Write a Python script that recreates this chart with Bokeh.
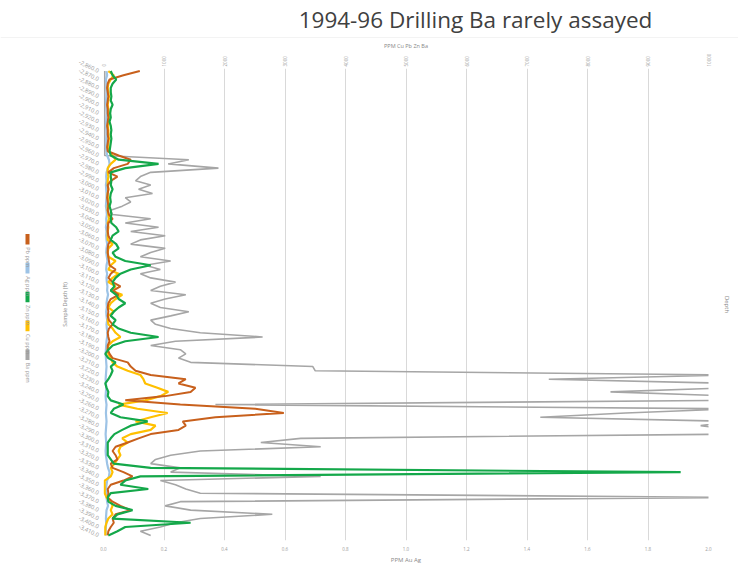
import math
from bokeh.plotting import figure
from bokeh.models import Range1d, LinearAxis, FixedTicker, PrintfTickFormatter
from bokeh.layouts import column, row
from bokeh.embed import file_html
from bokeh.resources import INLINE
from bokeh.core.properties import value

title_text = "1994-96 Drilling Ba rarely assayed"
top_axis_title = "PPM Cu Pb Zn Ba"
bottom_axis_title = "PPM Au Ag"
left_axis_title = "Sample Depth (ft)"
right_axis_title = "Depth"

# sample depths (category axis, top to bottom)
depth_ft = list(range(2860, 3415, 5))

pb_ppm = [600, 330, 100, 70, 60, 70, 80, 70, 60, 70, 70, 80, 70, 60, 70, 70, 80, 70, 60, 70,
          250, 450, 400, 170, 80, 230, 120, 70, 80, 70,
          60, 70, 80, 70, 90, 150, 80, 70, 70, 80,
          120, 80, 70, 70, 80, 90, 100, 200, 120, 80,
          150, 280, 160, 250, 120, 80, 70, 80, 70, 90,
          150, 90, 70, 80, 100, 70, 70, 100, 150, 400,
          450, 530, 780, 1360, 1240, 1520, 1440, 1020, 360, 1270,
          2510, 2980, 1850, 1310, 1360, 1240, 780, 580, 400, 200,
          150, 200, 230, 120, 150, 330, 480, 330, 120, 70,
          80, 70, 150, 280, 450, 200, 150, 170, 120, 80, 70]

ag_ppm = [0.010, 0.012, 0.008, 0.010, 0.009, 0.011, 0.010, 0.008, 0.009, 0.010,
          0.012, 0.010, 0.009, 0.008, 0.010, 0.011, 0.009, 0.010, 0.008, 0.010,
          0.012, 0.018, 0.020, 0.015, 0.010, 0.009, 0.010, 0.008, 0.009, 0.010,
          0.010, 0.009, 0.008, 0.010, 0.011, 0.009, 0.010, 0.008, 0.010, 0.009,
          0.010, 0.012, 0.010, 0.009, 0.011, 0.013, 0.010, 0.009, 0.012, 0.010,
          0.011, 0.013, 0.012, 0.015, 0.012, 0.010, 0.011, 0.009, 0.010, 0.012,
          0.010, 0.011, 0.013, 0.012, 0.010, 0.009, 0.008, 0.007, 0.008, 0.009,
          0.010, 0.009, 0.008, 0.007, 0.008, 0.009, 0.008, 0.007, 0.008, 0.010,
          0.009, 0.008, 0.009, 0.010, 0.009, 0.008, 0.007, 0.008, 0.009, 0.008,
          0.007, 0.008, 0.010, 0.012, 0.015, 0.020, 0.018, 0.012, 0.010, 0.008,
          0.009, 0.010, 0.012, 0.015, 0.010, 0.009, 0.008, 0.009, 0.008, 0.007, 0.008]

zn_ppm = [120, 150, 210, 150, 120, 120, 130, 120, 150, 120, 110, 120, 100, 120, 130, 120, 130, 120, 110, 100,
          120, 250, 910, 360, 120, 120, 130, 120, 150, 120,
          110, 120, 100, 120, 130, 120, 130, 210, 250, 150,
          120, 210, 250, 150, 200, 360, 780, 450, 280, 200,
          150, 180, 120, 210, 250, 360, 250, 170, 120, 200,
          150, 250, 450, 910, 360, 150, 80, 30, 80, 200,
          120, 150, 120, 80, 30, 50, 80, 70, 120, 330,
          170, 120, 280, 730, 450, 310, 180, 120, 70, 70,
          70, 70, 120, 170, 780, 9540, 610, 360, 280, 740,
          120, 70, 80, 200, 480, 230, 150, 1440, 360, 230, 80]

cu_ppm = [80, 170, 120, 80, 70, 80, 90, 80, 70, 80, 80, 90, 80, 70, 80, 80, 90, 80, 70, 80,
          150, 200, 120, 70, 70, 80, 70, 70, 80, 70,
          70, 80, 70, 70, 80, 90, 70, 80, 70, 70,
          70, 150, 80, 70, 80, 200, 120, 80, 250, 150,
          80, 200, 120, 310, 200, 120, 80, 170, 80, 70,
          80, 150, 200, 280, 150, 80, 70, 80, 120, 150,
          230, 400, 610, 660, 690, 890, 1070, 940, 690, 250,
          560, 1060, 780, 530, 860, 780, 450, 310, 400, 280,
          250, 280, 230, 180, 120, 150, 120, 20, 20, 20,
          20, 50, 120, 150, 120, 150, 80, 50, 30, 30, 30]

ba_ppm = [20, 20, 20, 20, 20, 20, 20, 20, 20, 20, 20, 20, 20, 20, 20, 20, 20, 20, 20, 20, 20,
          1410, 1070, 1900, 780, 610, 530, 780, 580, 810,
          360, 450, 310, 120, 150, 780, 360, 910, 450, 1020,
          610, 450, 1020, 780, 610, 1110, 690, 940, 610, 780,
          1190, 940, 780, 1360, 1020, 780, 940, 1410, 1110, 780,
          860, 1110, 1600, 2630, 1190, 780, 1270, 1360, 1240, 1440,
          3460, 3500, 10400, 7360, 10400, 10400, 8380, 10400, 10400, 1850,
          10400, 8630, 7220, 10400, 9870, 10400, 10400, 3260, 2600, 3590,
          1600, 1110, 860, 780, 1270, 1110, 3590, 940, 1190, 1360,
          1600, 10400, 1270, 1020, 1440, 2790, 1600, 1190, 940, 610, 780]

top_ticks = [0, 1000, 2000, 3000, 4000, 5000, 6000, 7000, 8000, 9000, 10000]
bottom_ticks = [0.0, 0.2, 0.4, 0.6, 0.8, 1.0, 1.2, 1.4, 1.6, 1.8, 2.0]

legend_names = ["Pb ppm", "Ag ppm", "Zn ppm", "Cu ppm", "Ba ppm"]
legend_colors = ["#c8601c", "#9dc3e6", "#14a84a", "#ffc000", "#a6a6a6"]

FONT = "Open Sans"
LABEL_GREY = "#9a9a9a"

# ---------- header ----------
hdr = figure(width=738, height=38, x_range=Range1d(0, 738), y_range=Range1d(38, 0),
             output_backend="svg", toolbar_location=None, min_border=0,
             x_axis_type=None, y_axis_type=None)
hdr.grid.visible = False
hdr.outline_line_color = None
hdr.text(x=[475], y=[19], text=[title_text], text_align="center", text_baseline="middle",
         text_font=value(FONT), text_font_size="22.5px", text_color="#404040")
hdr.segment(x0=[0], y0=[37.5], x1=[738], y1=[37.5], line_color="#e6e6e6", line_width=1)

# ---------- main chart ----------
p = figure(width=680, height=528, x_range=Range1d(0, 2.0), y_range=Range1d(3416, 2857),
           output_backend="svg", toolbar_location=None,
           min_border_left=45, min_border_right=30, min_border_top=24, min_border_bottom=25)
p.outline_line_color = None
p.extra_x_ranges = {"ppm": Range1d(0, 10000)}

def quiet(ax):
    ax.axis_line_color = None
    ax.major_tick_line_color = None
    ax.minor_tick_line_color = None
    ax.major_tick_out = 0
    ax.major_tick_in = 0
    ax.minor_tick_out = 0
    ax.minor_tick_in = 0
    ax.axis_label_text_font = FONT
    ax.axis_label_text_font_style = "normal"
    ax.axis_label_text_color = "#888888"
    ax.major_label_text_font = FONT
    ax.major_label_text_color = LABEL_GREY

bax = p.below[0]
quiet(bax)
bax.ticker = FixedTicker(ticks=bottom_ticks)
bax.formatter = PrintfTickFormatter(format="%.1f")
bax.axis_label = bottom_axis_title
bax.axis_label_text_font_size = "6px"
bax.axis_label_standoff = 2
bax.major_label_text_font_size = "4.5px"
bax.major_label_standoff = 6

tax = LinearAxis(x_range_name="ppm", ticker=FixedTicker(ticks=top_ticks), axis_label=top_axis_title)
quiet(tax)
tax.axis_label_text_font_size = "5.5px"
tax.axis_label_standoff = 1
tax.major_label_text_font_size = "4.5px"
tax.major_label_orientation = "vertical"
tax.major_label_standoff = 2
p.add_layout(tax, "above")

lax = p.left[0]
quiet(lax)
lax.ticker = FixedTicker(ticks=depth_ft[::2])
lax.major_label_overrides = {d: "-{:,}.0".format(d) for d in depth_ft[::2]}
lax.major_label_orientation = -0.45
lax.major_label_text_font_size = "5.8px"
lax.major_label_standoff = 5
lax.axis_label = left_axis_title
lax.axis_label_text_font_size = "5.5px"
lax.axis_label_standoff = 5

rax = LinearAxis(ticker=FixedTicker(ticks=[]), axis_label=right_axis_title)
quiet(rax)
rax.major_label_text_font_size = "0px"
rax.axis_label_text_font_size = "6px"
rax.axis_label_standoff = 14
p.add_layout(rax, "right")

p.xgrid.grid_line_color = "#d9d9d9"
p.xgrid.grid_line_width = 1
p.ygrid.visible = False

p.line(ba_ppm, depth_ft, x_range_name="ppm", line_color=legend_colors[4], line_width=1.6)
p.line(ag_ppm, depth_ft, line_color=legend_colors[1], line_width=2.2)
p.line(cu_ppm, depth_ft, x_range_name="ppm", line_color=legend_colors[3], line_width=2.2)
p.line(pb_ppm, depth_ft, x_range_name="ppm", line_color=legend_colors[0], line_width=2.0)
p.line(zn_ppm, depth_ft, x_range_name="ppm", line_color=legend_colors[2], line_width=2.2)

# ---------- legend (rotated, left side) ----------
leg = figure(width=58, height=528, x_range=Range1d(0, 58), y_range=Range1d(566, 38),
             output_backend="svg", toolbar_location=None, min_border=0,
             x_axis_type=None, y_axis_type=None)
leg.grid.visible = False
leg.outline_line_color = None
bar_top = [223 + 32.3 * k for k in range(len(legend_names))]
leg.quad(left=[25] * 5, right=[29] * 5, top=bar_top, bottom=[b + 12 for b in bar_top],
         fill_color=legend_colors, line_color=None)
leg.text(x=[27] * 5, y=[b + 15 for b in bar_top], text=legend_names, angle=-math.pi / 2,
         text_align="left", text_baseline="middle", text_font=value(FONT),
         text_font_size="5.5px", text_color="#999999")

layout = column(hdr, row(leg, p))
open("out.html", "w").write(file_html(layout, INLINE))
